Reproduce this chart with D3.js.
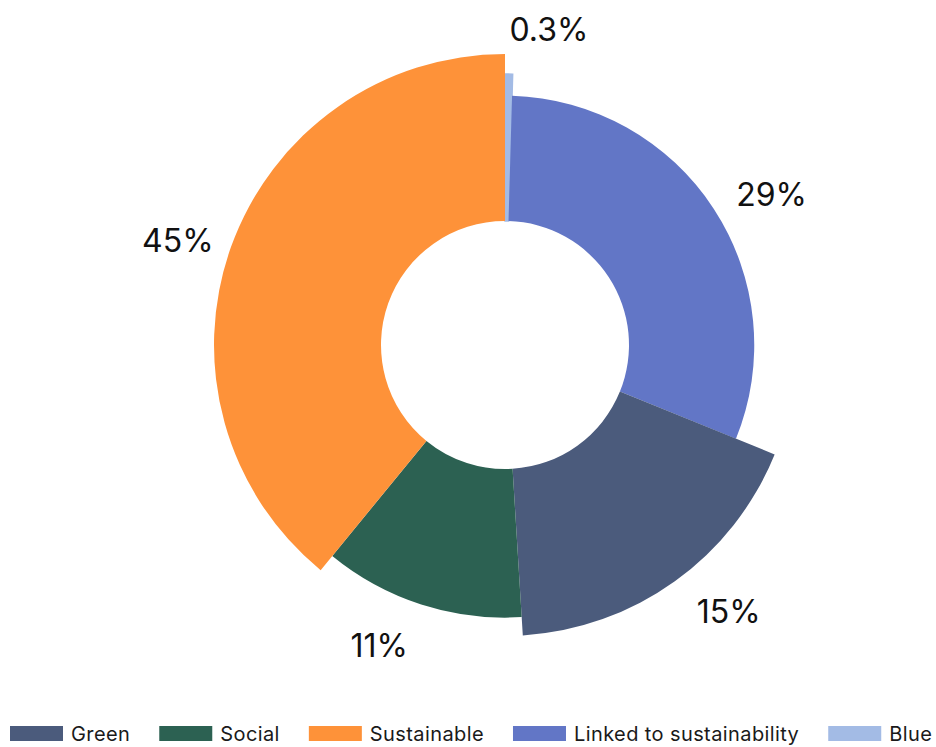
<!DOCTYPE html>
<html>
<head>
<meta charset="utf-8">
<script src="https://cdn.jsdelivr.net/npm/d3@7"></script>
<style>
  html, body { margin: 0; padding: 0; background: #ffffff; }
  svg { display: block; }
  text { font-family: Inter, "Open Sans", sans-serif; }
</style>
</head>
<body>
<svg id="chart" width="936" height="747"></svg>
<script>
// ---- data (clockwise from 12 o'clock) ----
const sliceNames   = ["Blue", "Linked to sustainability", "Green", "Social", "Sustainable"];
const angleShares  = [0.45, 30.7, 17.9, 11.9, 39.1];   // share of the circle each slice spans
const sizeIndex    = [88, 75, 100, 89, 100];            // relative slice length (0..100)
const labelTexts   = ["0.3%", "29%", "15%", "11%", "45%"];
const legendOrder  = ["Green", "Social", "Sustainable", "Linked to sustainability", "Blue"];
const sliceColors  = ["#A3BBE5", "#6276C6", "#4B5B7C", "#2C6152", "#FE9239"];

const data = sliceNames.map((n, i) => ({
  name: n, share: angleShares[i], size: sizeIndex[i], label: labelTexts[i]
}));
const colorOf = d3.scaleOrdinal().domain(sliceNames).range(sliceColors);

const svg = d3.select("#chart");
const cx = 505, cy = 345;
const rScale = d3.scaleLinear().domain([0, 100]).range([124, 291]);

const pie = d3.pie().sort(null).value(d => d.share).startAngle(0).endAngle(2 * Math.PI);
const arc = d3.arc().innerRadius(rScale(0)).outerRadius(d => rScale(d.data.size));

const g = svg.append("g").attr("transform", `translate(${cx},${cy})`);
const arcs = pie(data);

g.selectAll("path.slice")
  .data(arcs)
  .join("path")
  .attr("class", "slice")
  .attr("d", arc)
  .attr("fill", d => colorOf(d.data.name))
  .attr("stroke", d => d.data.name === "Blue" ? colorOf(d.data.name) : "none")
  .attr("stroke-width", 1.5);

// labels outside each slice along its mid-angle; the gap grows with the
// vertical component so the label box (not its centre) keeps clear of the slice
const midA = d => (d.startAngle + d.endAngle) / 2;
g.selectAll("text.lbl")
  .data(arcs)
  .join("text")
  .attr("class", "lbl")
  .attr("transform", d => {
    const a = midA(d);
    const r = rScale(d.data.size) + 5 + 40 * Math.abs(Math.cos(a));
    return `translate(${r * Math.sin(a)},${-r * Math.cos(a)})`;
  })
  .attr("text-anchor", d => Math.sin(midA(d)) >= 0 ? "start" : "end")
  .attr("dominant-baseline", "central")
  .attr("font-size", 32)
  .attr("fill", "#111")
  .text(d => d.data.label);

// legend
const legend = svg.append("g").attr("transform", "translate(10,726)");
let x = 0;
legendOrder.forEach(name => {
  const item = legend.append("g").attr("transform", `translate(${x},0)`);
  item.append("rect").attr("width", 53).attr("height", 15).attr("fill", colorOf(name));
  const t = item.append("text")
    .attr("x", 61).attr("y", 15)
    .attr("font-size", 20)
    .attr("letter-spacing", 0.4)
    .attr("fill", "#1a1a1a")
    .text(name);
  x += 61 + t.node().getComputedTextLength() + 29;
});
</script>
</body>
</html>
